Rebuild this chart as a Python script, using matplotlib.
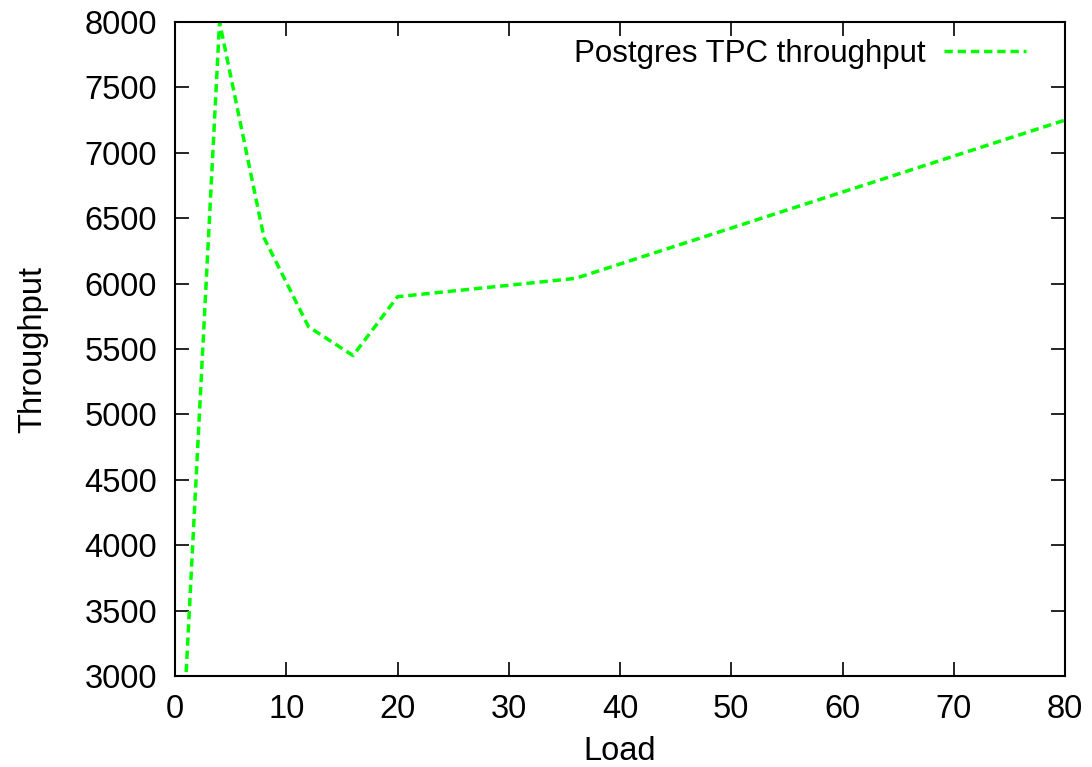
import matplotlib
matplotlib.use("Agg")
import matplotlib.pyplot as plt

load = [1, 4, 8, 12, 16, 20, 36, 80]
throughput = [3030, 8000, 6350, 5670, 5450, 5900, 6040, 7250]

plt.rcParams['font.family'] = ['Liberation Sans', 'DejaVu Sans']
plt.rcParams['font.size'] = 23.5

fig = plt.figure(figsize=(10.92, 7.67), dpi=100)
ax = fig.add_axes([0.1603, 0.1186, 0.815, 0.8527])

ax.plot(load, throughput, color='#00ff00', lw=2.5, dashes=(2.4, 1.4),
        label='Postgres TPC throughput')

ax.set_xlim(0, 80)
ax.set_ylim(3000, 8000)
ax.set_xticks(range(0, 81, 10))
ax.set_yticks(range(3000, 8001, 500))
ax.tick_params(direction='in', length=10, width=1.2, top=True, right=True, pad=13)
for s in ax.spines.values():
    s.set_linewidth(1.5)

ax.set_xlabel('Load', labelpad=8)
ax.set_ylabel('Throughput', labelpad=26)

ax.legend(loc='upper right', frameon=False, markerfirst=False,
          handlelength=2.6, handletextpad=0.6, borderaxespad=0.3,
          borderpad=0.25, bbox_to_anchor=(0.975, 1.0), fontsize=22.5)

fig.savefig('out.png', dpi=100)
